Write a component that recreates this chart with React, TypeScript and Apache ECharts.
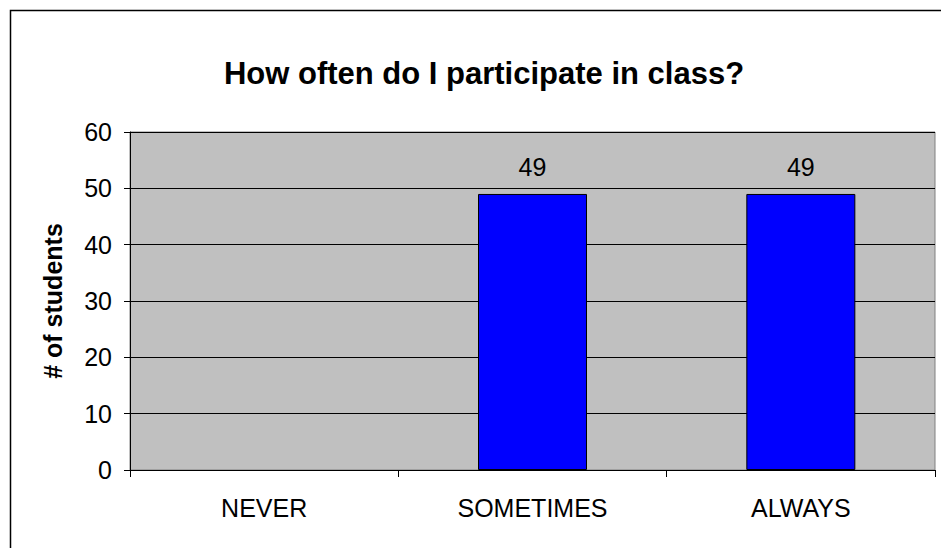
import React, { useEffect, useRef } from "react";
import * as echarts from "echarts";

const categories = ["NEVER", "SOMETIMES", "ALWAYS"];
const students = [0, 49, 49];
const yTicks = { min: 0, max: 60, interval: 10 };
const titleText = "How often do I participate in class?";
const yName = "# of students";

const FONT = "'Liberation Sans', Arial, sans-serif";

export default function App() {
  const ref = useRef<HTMLDivElement>(null);
  useEffect(() => {
    if (!ref.current) return;
    const chart = echarts.init(ref.current, null, { renderer: "svg" });
    chart.setOption({
      animation: false,
      backgroundColor: "#ffffff",
      title: {
        text: titleText,
        left: 479,
        top: 53,
        textAlign: "center",
        textStyle: { fontFamily: FONT, fontWeight: "bold", fontSize: 31, color: "#000" },
      },
      graphic: [
        {
          type: "rect",
          shape: { x: 10.5, y: 10.5, width: 1000, height: 1000 },
          style: { fill: "none", stroke: "#000", lineWidth: 1.5 },
          silent: true,
          z: 100,
        },
      ],
      grid: {
        left: 130,
        top: 132,
        right: 6,
        bottom: 78,
        show: true,
        backgroundColor: "#C0C0C0",
        borderColor: "#808080",
        borderWidth: 1,
      },
      xAxis: {
        type: "category",
        data: categories,
        axisLine: { show: true, lineStyle: { color: "#000", width: 1 } },
        axisTick: { show: true, alignWithLabel: false, length: 7, lineStyle: { color: "#000" } },
        axisLabel: { fontFamily: FONT, fontSize: 25, color: "#000", margin: 25 },
        splitLine: { show: false },
      },
      yAxis: {
        type: "value",
        min: yTicks.min,
        max: yTicks.max,
        interval: yTicks.interval,
        name: yName,
        nameLocation: "middle",
        nameGap: 65,
        nameTextStyle: { fontFamily: FONT, fontWeight: "bold", fontSize: 25, color: "#000" },
        axisLine: { show: true, lineStyle: { color: "#000", width: 1 } },
        axisTick: { show: true, length: 6, lineStyle: { color: "#000" } },
        axisLabel: { fontFamily: FONT, fontSize: 25, color: "#000", margin: 18 },
        splitLine: { show: true, lineStyle: { color: "#000", width: 1 } },
      },
      series: [
        {
          type: "bar",
          data: students.map((v) =>
            v ? v : { value: v, itemStyle: { borderWidth: 0, opacity: 0 } }
          ),
          barWidth: 109,
          itemStyle: { color: "#0000FF", borderColor: "#000", borderWidth: 1 },
          label: {
            show: true,
            position: "top",
            distance: 14,
            fontFamily: FONT,
            fontSize: 25,
            color: "#000",
            formatter: (p: any) => (p.value ? String(p.value) : ""),
          },
        },
      ],
    });
    return () => chart.dispose();
  }, []);
  return (
    <div
      ref={ref}
      style={{ position: "fixed", left: 0, top: 0, width: 941, height: 548 }}
    />
  );
}
